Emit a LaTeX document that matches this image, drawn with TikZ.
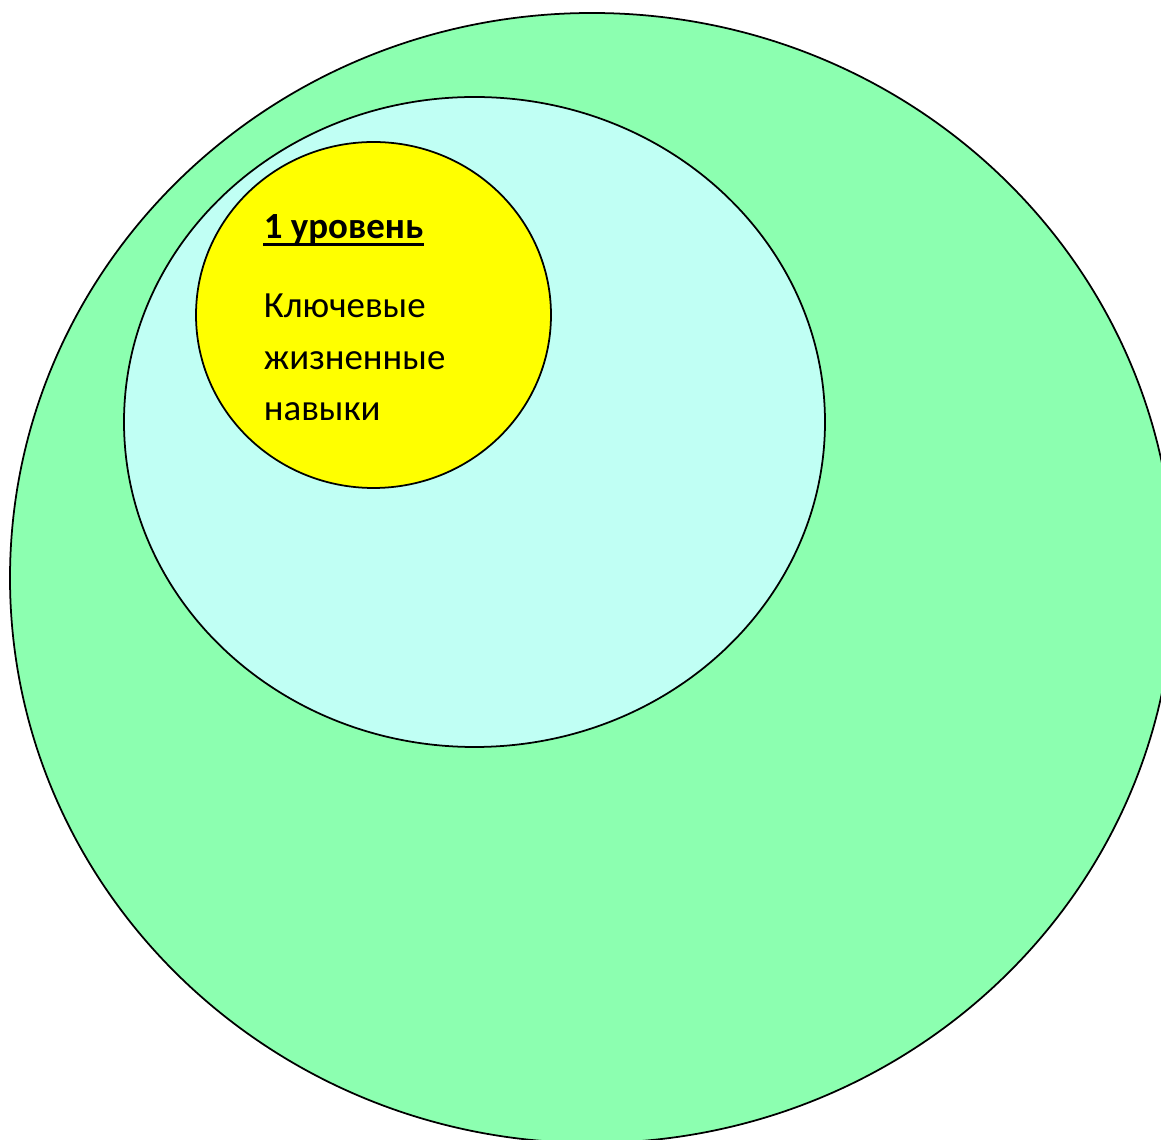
\documentclass[tikz,border=0pt]{standalone}
\usepackage{fontspec}
\setmainfont{Carlito}
\definecolor{outergreen}{RGB}{140,255,176}
\definecolor{middlecyan}{RGB}{192,255,244}
\definecolor{inneryellow}{RGB}{255,255,0}

\begin{document}
\begin{tikzpicture}[x=0.02cm, y=0.02cm, line width=1pt,
        every node/.style={inner sep=0pt, anchor=base west, font=\fontsize{21}{29.6}\selectfont}]
    \useasboundingbox (0,0) rectangle (1161,1140);
    \clip (0,0) rectangle (1161,1140);
    \filldraw[fill=outergreen] (592,562) ellipse (582 and 565);
    \filldraw[fill=middlecyan] (474.5,718) ellipse (350.5 and 325);
    \filldraw[fill=inneryellow] (373.5,825) ellipse (177.5 and 173);
    \node (level) at (263,901) {\textbf{1 уровень}};
    \draw[line width=1.7pt] ([yshift=-3.4pt]level.base west) -- ([yshift=-3.4pt]level.base east);
    \node (skills1) at (263,822) {Ключевые};
    \node (skills2) at (263,770) {жизненные};
    \node (skills3) at (263,719) {навыки};
\end{tikzpicture}
\end{document}
